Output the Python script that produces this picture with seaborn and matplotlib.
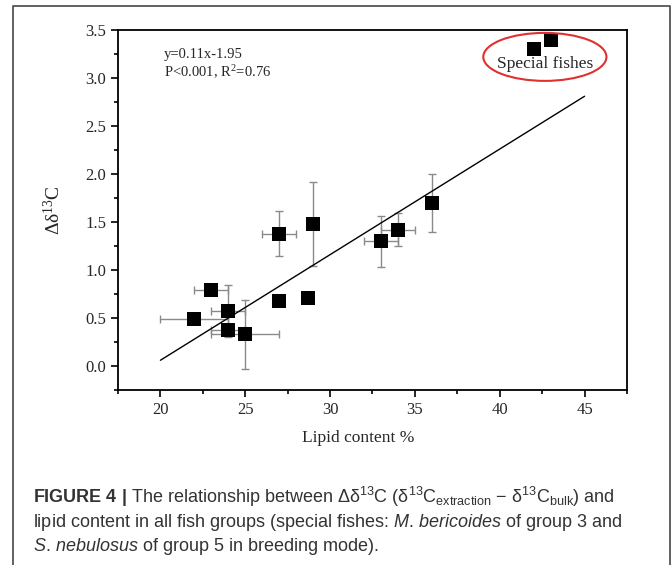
import numpy as np
import pandas as pd
import seaborn as sns
import matplotlib.pyplot as plt
from matplotlib.patches import Ellipse
from matplotlib.lines import Line2D
from matplotlib.ticker import MultipleLocator

# Values
lipid = [22, 23, 24, 24, 25, 27, 29, 27, 28.7, 33, 34, 36]
delta = [0.49, 0.79, 0.57, 0.37, 0.33, 1.38, 1.48, 0.68, 0.71, 1.30, 1.42, 1.70]
lipid_err = [2, 1, 1, 1, 2, 1, 0, 0, 0, 1, 1, 0]
delta_err = [0, 0, 0.27, 0.05, 0.36, 0.235, 0.44, 0, 0, 0.265, 0.17, 0.30]
special_lipid = [42, 43]
special_delta = [3.30, 3.40]
fit_x = [20, 45]
fit_y = [0.06, 2.81]

df = pd.DataFrame({'lipid': lipid + special_lipid, 'delta': delta + special_delta})
fit = pd.DataFrame({'x': fit_x, 'y': fit_y})

sns.set_style('ticks')
plt.rcParams['font.family'] = ['Liberation Serif', 'DejaVu Serif']
plt.rcParams['mathtext.fontset'] = 'custom'
plt.rcParams['mathtext.rm'] = 'Liberation Sans'
plt.rcParams['mathtext.it'] = 'Liberation Sans:italic'
plt.rcParams['mathtext.bf'] = 'Liberation Sans:bold'

fig = plt.figure(figsize=(6.72, 5.65), dpi=100)
ax = fig.add_axes([0.1756, 0.3097, 0.7574, 0.6372])

ax.errorbar(lipid, delta, xerr=lipid_err, yerr=delta_err, fmt='none',
            ecolor='#8a8a8a', elinewidth=1, capsize=3, capthick=1, zorder=1)
sns.lineplot(data=fit, x='x', y='y', color='black', linewidth=1, ax=ax, zorder=2)
sns.scatterplot(data=df, x='lipid', y='delta', marker='s', s=95, color='black',
                edgecolor='black', linewidth=0, ax=ax, zorder=3)

ax.add_patch(Ellipse((42.66, 3.22), 7.26, 0.50, fill=False, edgecolor='#e03030',
                     linewidth=1.5, zorder=4))
ax.text(42.69, 3.15, 'Special fishes', ha='center', va='center', fontsize=12.5)
ax.text(20.2, 3.21, 'y=0.11x-1.95', fontsize=10.5)
ax.text(20.2, 3.01, r'P<0.001, R$\mathregular{^2}$=0.76', fontsize=10.5)

ax.set_xlim(17.5, 47.5)
ax.set_ylim(-0.25, 3.5)
ax.xaxis.set_major_locator(MultipleLocator(5))
ax.xaxis.set_minor_locator(MultipleLocator(2.5))
ax.yaxis.set_major_locator(MultipleLocator(0.5))
ax.yaxis.set_minor_locator(MultipleLocator(0.25))
ax.tick_params(which='major', direction='out', length=5, width=1.2, labelsize=12, color='black')
ax.tick_params(which='minor', direction='out', length=3, width=1.2, color='black')
for s in ax.spines.values():
    s.set_linewidth(1.3)
    s.set_color('black')
ax.set_xlabel('Lipid content %', fontsize=12.5)
ax.set_ylabel(r'$\mathregular{Δδ^{13}C}$', fontsize=14)
ax.xaxis.set_label_coords((358 - 118) / 509, -40 / 360)
ax.yaxis.set_label_coords(-(118 - 64) / 509, 0.5)

# outer frame (open at the bottom)
fx = lambda p: p / 672
fy = lambda p: 1 - p / 565
fig.add_artist(Line2D([fx(13), fx(13), fx(670), fx(670)], [fy(565), fy(6), fy(6), fy(565)],
                      color='#555555', linewidth=1.3))

cap_kw = dict(fontsize=13, color='#333333', ha='left', va='baseline',
              family=['Liberation Sans', 'DejaVu Sans'])
fig.text(fx(33), fy(503), r'$\bf{FIGURE\ 4\ |}$ The relationship between Δδ$^{13}$C (δ$^{13}$C$_{\rm extraction}$ − δ$^{13}$C$_{\rm bulk}$) and', **cap_kw)
fig.text(fx(33), fy(527), r'lipid content in all fish groups (special fishes: $\it{M.\,bericoides}$ of group 3 and', **cap_kw)
fig.text(fx(33), fy(551), r'$\it{S.\,nebulosus}$ of group 5 in breeding mode).', **cap_kw)

fig.savefig('out.png', dpi=100)
